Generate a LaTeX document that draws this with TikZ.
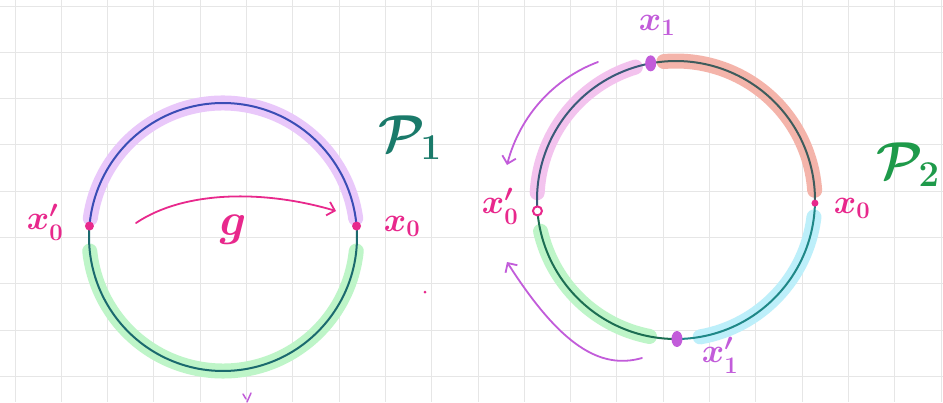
\RequirePackage{fix-cm}
\documentclass[tikz,border=0pt]{standalone}
\usetikzlibrary{arrows.meta,calc,shapes.geometric}
\definecolor{gridc}{HTML}{E6E6E6}
\definecolor{mag}{HTML}{E8288C}
\definecolor{purp}{HTML}{C25CDA}
\definecolor{hlpurple}{HTML}{E9C8FA}
\definecolor{hlgreen}{HTML}{BEF5C8}
\definecolor{hlsalmon}{HTML}{F4B4AA}
\definecolor{hlcyan}{HTML}{BDEFFA}
\definecolor{hlpink}{HTML}{F3C3EE}
\definecolor{lnblue}{HTML}{3A4DB5}
\definecolor{lnteal}{HTML}{1B6A6E}
\definecolor{lngray}{HTML}{3E5C5C}
\definecolor{lncyan}{HTML}{1F8888}
\definecolor{lngreen}{HTML}{1C6E52}
\definecolor{lnslate}{HTML}{3A5A78}
\definecolor{pteal}{HTML}{1A7A6A}
\definecolor{pgreen}{HTML}{1E9A4A}
\begin{document}
\begin{tikzpicture}[x=1pt,y=-1pt,
  hl/.style={line width=15pt,line cap=round},
  ln/.style={line width=2pt,line cap=round},
  arr/.style={line width=1.8pt,line cap=round,-{Straight Barb[length=7pt,width=14pt]}},
  lab/.style={inner sep=0pt,font=\fontsize{34}{34}\selectfont\boldmath},
  bigp/.style={inner sep=0pt,font=\fontsize{52}{52}\selectfont\boldmath},
  magdot/.style={circle,fill=mag,minimum size=9pt,inner sep=0pt},
  pdot/.style={ellipse,fill=purp,minimum width=11pt,minimum height=16pt,inner sep=0pt}]
\fill[white] (0,0) rectangle (943,402);
\useasboundingbox (0,0) rectangle (943,402);
\foreach \i in {0,...,20} \draw[gridc,line width=1pt] ({15+46.3*\i},0) -- ({15+46.3*\i},402);
\foreach \j in {0,...,8} \draw[gridc,line width=1pt] (0,{6+46.3*\j}) -- (943,{6+46.3*\j});

% ---------- left circle ----------
\coordinate (C1) at (223,237);
\draw[hl,hlpurple] ($(C1)+(188:134)$) arc[start angle=188,end angle=352,radius=134];
\draw[hl,hlgreen] ($(C1)+(6:134)$) arc[start angle=6,end angle=174,radius=134];
\draw[ln,lnblue] ($(C1)+(184.7:134)$) arc[start angle=184.7,end angle=355.3,radius=134];
\draw[ln,lnteal] ($(C1)+(-4.7:134)$) arc[start angle=-4.7,end angle=184.7,radius=134];
\node[magdot] (L0p) at ($(C1)+(184.7:134)$) {};
\node[magdot] (L0) at ($(C1)+(355.3:134)$) {};
\node[lab,text=mag] (lL0p) at (45,222) {$x_0^{\prime}$};
\node[lab,text=mag] (lL0) at (402,226) {$x_0$};
\coordinate (gs) at (136,223);
\coordinate (ge) at (336,211);
\draw[arr,mag] (gs) .. controls (185,190) and (265,190) .. (ge);
\node[inner sep=0pt,font=\fontsize{46}{46}\selectfont\boldmath,text=mag] (g) at (233,230) {$g$};
\node[bigp,text=pteal] (P1) at (410,138) {$\mathcal{P}_1$};
\fill[mag] (425,292) circle (1.5pt);

% ---------- right circle ----------
\coordinate (C2) at (676,200);
\draw[hl,hlpink] ($(C2)+(183:139)$) arc[start angle=183,end angle=253,radius=139];
\draw[hl,hlsalmon] ($(C2)+(265:139)$) arc[start angle=265,end angle=356,radius=139];
\draw[hl,hlcyan] ($(C2)+(7:139)$) arc[start angle=7,end angle=80,radius=139];
\draw[hl,hlgreen] ($(C2)+(101:139)$) arc[start angle=101,end angle=167,radius=139];
\draw[ln,lngray] ($(C2)+(259.5:139)$) arc[start angle=259.5,end angle=361.3,radius=139];
\draw[ln,lncyan] ($(C2)+(1.3:139)$) arc[start angle=1.3,end angle=89.6,radius=139];
\draw[ln,lngreen] ($(C2)+(89.6:139)$) arc[start angle=89.6,end angle=175.5,radius=139];
\draw[ln,lnslate] ($(C2)+(175.5:139)$) arc[start angle=175.5,end angle=259.5,radius=139];
\node[pdot] (R1) at ($(C2)+(259.5:139)$) {};
\node[circle,fill=mag,minimum size=7pt,inner sep=0pt] (R0) at ($(C2)+(1.3:139)$) {};
\node[circle,draw=mag,line width=2pt,fill=white,minimum size=9pt,inner sep=0pt] (R0p) at ($(C2)+(175.5:139)$) {};
\node[pdot] (R1p) at ($(C2)+(89.6:139)$) {};
\node[lab,text=purp] (lR1) at (657,25) {$x_1$};
\node[lab,text=mag] (lR0) at (852,208) {$x_0$};
\node[lab,text=mag] (lR0p) at (500,206) {$x_0^{\prime}$};
\node[lab,text=purp] (lR1p) at (720,355) {$x_1^{\prime}$};
\node[bigp,text=pgreen] (P2) at (908,165) {$\mathcal{P}_2$};
\coordinate (a1s) at (598,62);
\coordinate (a1e) at (507,165);
\draw[arr,purp] (a1s) .. controls (555,78) and (520,115) .. (a1e);
\coordinate (a2s) at (642,358);
\coordinate (a2e) at (507,262);
\draw[arr,purp] (a2s) .. controls (600,370) and (560,345) .. (a2e);
\draw[purp,line width=1.5pt,line cap=round] (243,394) -- (246,399) (251,393) -- (247,402);
\end{tikzpicture}
\end{document}
